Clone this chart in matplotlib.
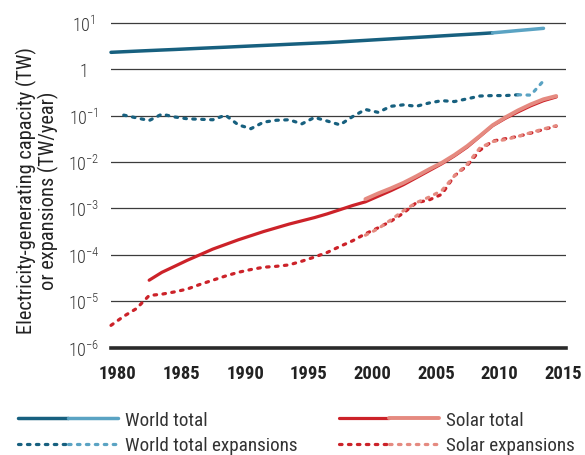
import matplotlib
matplotlib.use("Agg")
import matplotlib.pyplot as plt
import matplotlib.transforms as mtransforms
from matplotlib.legend_handler import HandlerTuple

# Daten (TW bzw. TW/Jahr)
years_world = list(range(1980, 2015))
world_total = [2.30, 2.37, 2.44, 2.51, 2.58, 2.65, 2.73, 2.81, 2.89, 2.97,
               3.06, 3.15, 3.24, 3.33, 3.43, 3.53, 3.63, 3.73, 3.86, 4.01,
               4.16, 4.32, 4.48, 4.65, 4.82, 5.00, 5.20, 5.40, 5.60, 5.81,
               6.05, 6.40, 6.78, 7.16, 7.57]
world_split = 2010

years_world_exp = list(range(1981, 2015))
world_exp = [0.102, 0.089, 0.078, 0.107, 0.093, 0.085, 0.083, 0.081, 0.102,
             0.063, 0.052, 0.072, 0.079, 0.081, 0.066, 0.091, 0.076, 0.063,
             0.095, 0.135, 0.117, 0.158, 0.170, 0.158, 0.186, 0.209, 0.200,
             0.229, 0.263, 0.269, 0.269, 0.280, 0.275, 0.56]
world_exp_split = 2012

years_solar = list(range(1983, 2016))
solar_total = [2.82e-5, 4.17e-5, 5.62e-5, 7.59e-5, 1.00e-4, 1.32e-4, 1.66e-4,
               2.09e-4, 2.57e-4, 3.16e-4, 3.80e-4, 4.57e-4, 5.37e-4, 6.31e-4,
               7.59e-4, 9.33e-4, 1.15e-3, 1.38e-3, 1.82e-3, 2.40e-3, 3.24e-3,
               4.57e-3, 6.46e-3, 9.12e-3, 1.35e-2, 2.09e-2, 3.55e-2, 6.03e-2,
               8.71e-2, 0.120, 0.162, 0.209, 0.251]

years_solar2 = list(range(2000, 2016))
solar_total2 = [1.58e-3, 2.09e-3, 2.69e-3, 3.55e-3, 4.90e-3, 6.92e-3, 9.55e-3,
                1.41e-2, 2.19e-2, 3.63e-2, 6.17e-2, 9.12e-2, 0.129, 0.174,
                0.224, 0.263]

years_solar_exp = list(range(1980, 2016))
solar_exp = [3.0e-6, 4.7e-6, 6.9e-6, 1.32e-5, 1.41e-5, 1.58e-5, 1.82e-5,
             2.29e-5, 2.82e-5, 3.47e-5, 4.17e-5, 4.79e-5, 5.37e-5, 5.62e-5,
             6.03e-5, 7.24e-5, 8.91e-5, 1.12e-4, 1.51e-4, 2.00e-4, 2.82e-4,
             3.80e-4, 5.25e-4, 7.94e-4, 1.32e-3, 1.51e-3, 2.00e-3, 5.01e-3,
             8.32e-3, 1.78e-2, 2.82e-2, 3.16e-2, 3.55e-2, 4.17e-2, 5.01e-2,
             5.89e-2]

years_solar_exp2 = list(range(2000, 2016))
solar_exp2 = [2.63e-4, 3.63e-4, 5.62e-4, 8.91e-4, 1.32e-3, 1.74e-3, 2.40e-3,
              5.01e-3, 8.91e-3, 2.00e-2, 2.75e-2, 3.02e-2, 3.55e-2, 4.27e-2,
              5.13e-2, 6.03e-2]

x_ticks = [1980, 1985, 1990, 1995, 2000, 2005, 2010, 2015]
y_ticks = [1e-6, 1e-5, 1e-4, 1e-3, 1e-2, 1e-1, 1, 10]
y_labels = [r'$\mathregular{10^{-6}}$', r'$\mathregular{10^{-5}}$',
            r'$\mathregular{10^{-4}}$', r'$\mathregular{10^{-3}}$',
            r'$\mathregular{10^{-2}}$', r'$\mathregular{10^{-1}}$',
            '1', r'$\mathregular{10^{1}}$']

# Farben
dark_blue = '#17607f'
light_blue = '#5aa3c3'
red = '#cc2229'
salmon = '#e58a80'

FONT = ['Roboto Condensed', 'DejaVu Sans']
plt.rcParams['font.family'] = FONT
plt.rcParams['mathtext.fontset'] = 'custom'
plt.rcParams['mathtext.rm'] = 'Roboto Condensed:light'

fig = plt.figure(figsize=(5.85, 4.56), dpi=100)
ax = fig.add_axes([111 / 585, 1 - 348.5 / 456, 455 / 585, (348.5 - 9.8) / 456])

dots = (0, (0.8, 2.0))

def split(years, vals, at):
    a = [(y, v) for y, v in zip(years, vals) if y <= at]
    b = [(y, v) for y, v in zip(years, vals) if y >= at]
    return list(zip(*a)), list(zip(*b))

# Welt gesamt
(wy1, wv1), (wy2, wv2) = split(years_world, world_total, world_split)
l_w1, = ax.plot(wy1, wv1, color=dark_blue, lw=2.5, solid_capstyle='round', clip_on=False)
l_w2, = ax.plot(wy2, wv2, color=light_blue, lw=2.5, solid_capstyle='round', clip_on=False)

# Welt Zubau
(ey1, ev1), (ey2, ev2) = split(years_world_exp, world_exp, world_exp_split)
l_e1, = ax.plot(ey1, ev1, color=dark_blue, lw=2.3, ls=dots, dash_capstyle='round', clip_on=False)
l_e2, = ax.plot(ey2, ev2, color=light_blue, lw=2.3, ls=dots, dash_capstyle='round', clip_on=False)

# Solar gesamt
l_s1, = ax.plot(years_solar, solar_total, color=red, lw=2.3, solid_capstyle='round', clip_on=False)
l_s2, = ax.plot(years_solar2, solar_total2, color=salmon, lw=2.8, solid_capstyle='round', clip_on=False)

# Solar Zubau
l_x1, = ax.plot(years_solar_exp, solar_exp, color=red, lw=2.3, ls=dots, dash_capstyle='round', clip_on=False)
l_x2, = ax.plot(years_solar_exp2, solar_exp2, color=salmon, lw=2.3, ls=dots, dash_capstyle='round', clip_on=False)

ax.set_yscale('log')
ax.set_ylim(1e-6, 10 ** 1.3)
ax.set_xlim(1980, 2015.77)

ax.set_yticks(y_ticks)
ax.set_yticklabels(y_labels)
ax.yaxis.set_minor_locator(matplotlib.ticker.NullLocator())
ax.tick_params(axis='y', length=0, pad=19.5, labelsize=13, labelcolor='#333333')
for lab in ax.get_yticklabels():
    lab.set_horizontalalignment('center')
    lab.set_fontweight('light')

ax.set_xticks(x_ticks)
ax.set_xticklabels([str(x) for x in x_ticks], fontweight='bold')
ax.tick_params(axis='x', length=0, pad=12, labelsize=13.4, labelcolor='#222222')
shift = mtransforms.ScaledTranslation(7 / 100, 0, fig.dpi_scale_trans)
for lab in ax.get_xticklabels():
    lab.set_transform(lab.get_transform() + shift)

ax.grid(axis='y', color='#3c3c3c', lw=0.9)
ax.set_axisbelow(True)
for s in ['top', 'right', 'left']:
    ax.spines[s].set_visible(False)
ax.spines['bottom'].set_linewidth(2.6)
ax.spines['bottom'].set_color('#2a2a2a')

fig.text(37.5 / 585, 1 - 191 / 456,
         'Electricity-generating capacity (TW)\nor expansions (TW/year)',
         rotation=90, ha='center', va='center', multialignment='center',
         fontsize=14.7, color='#222222', linespacing=1.08)

handles = [(l_w1, l_w2), (l_e1, l_e2), (l_s1, l_s2), (l_x1, l_x2)]
labels = ['World total', 'World total expansions', 'Solar total', 'Solar expansions']
fig.legend(handles, labels, ncol=2, loc='upper left',
           bbox_to_anchor=(18 / 585, 1 - 412 / 456),
           frameon=False, fontsize=13.8, handlelength=5.2, handletextpad=0.36,
           columnspacing=2.2, labelspacing=0.38, borderaxespad=0, borderpad=0,
           handler_map={tuple: HandlerTuple(ndivide=None, pad=0)},
           labelcolor='#333333')

fig.savefig('out.png', dpi=100)
